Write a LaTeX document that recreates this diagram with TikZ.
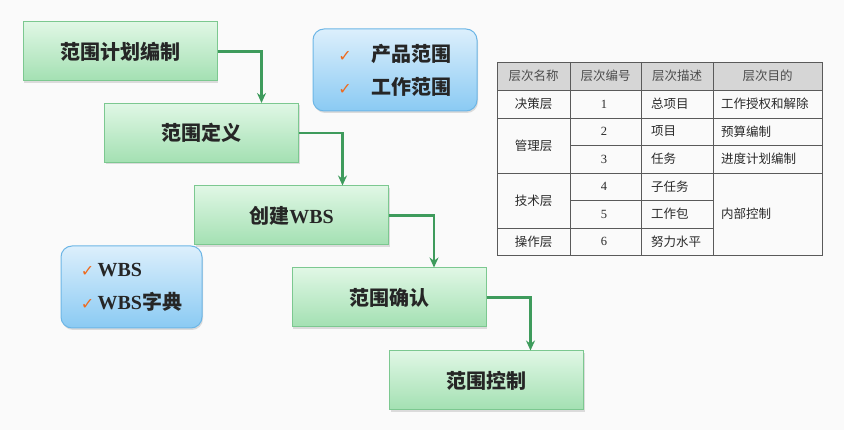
\documentclass[tikz,border=0pt]{standalone}
\usepackage{fontspec}
\setmainfont{Liberation Serif}
\newfontfamily\cjk{Noto Sans CJK SC}
\newfontfamily\symfont{DejaVu Sans}
\usetikzlibrary{arrows.meta, shadows}

\definecolor{pagebg}{HTML}{FAFAFA}
\definecolor{stagetop}{HTML}{E0F7E5}
\definecolor{stagebot}{HTML}{A3E0B2}
\definecolor{stageline}{HTML}{7CC890}
\definecolor{flowgreen}{HTML}{3E9B5C}
\definecolor{notetop}{HTML}{DCEFFC}
\definecolor{notebot}{HTML}{8ACAF3}
\definecolor{noteline}{HTML}{6DB6E6}
\definecolor{tickorange}{HTML}{EE6A1E}
\definecolor{headgray}{HTML}{D6D6D6}
\definecolor{gridline}{HTML}{5A5A5A}
\definecolor{celltext}{HTML}{2A2A2A}

\newcommand\zh[1]{{\cjk #1}}
\newcommand\tick{{\symfont\color{tickorange}\fontsize{16}{16}\selectfont ✓}}

\begin{document}
\begin{tikzpicture}[
  x=1pt, y=-1pt,
  >={Stealth[length=10pt,width=9pt]},
  stage/.style={
    rectangle, draw=stageline, line width=1pt,
    top color=stagetop, bottom color=stagebot,
    minimum width=194pt, minimum height=59pt,
    font=\fontsize{20}{24}\selectfont\bfseries, text=black!85,
    drop shadow={opacity=0.25, shadow xshift=1pt, shadow yshift=-2pt}
  },
  result/.style={
    rectangle, rounded corners=11pt, draw=noteline, line width=1pt,
    top color=notetop, bottom color=notebot,
    align=left, inner sep=0pt,
    font=\fontsize{20}{33}\selectfont\bfseries, text=black!85,
    drop shadow={opacity=0.25, shadow xshift=1pt, shadow yshift=-2pt}
  },
  flow/.style={->, draw=flowgreen, line width=2.6pt},
  cell/.style={font=\fontsize{12.5}{14}\selectfont, text=celltext, inner sep=0pt},
]

  \fill[pagebg] (0,0) rectangle (844,430);

  % -------------------------------------------------------
  %  Process steps
  % -------------------------------------------------------
  \node[stage] (b1) at (120.0,  51.5) {\zh{范围计划编制}};
  \node[stage] (b2) at (201.5, 133.0) {\zh{范围定义}};
  \node[stage] (b3) at (291.5, 215.5) {\zh{创建}WBS};
  \node[stage] (b4) at (389.0, 297.5) {\zh{范围确认}};
  \node[stage] (b5) at (486.5, 380.5) {\zh{范围控制}};

  % -------------------------------------------------------
  %  Outputs (blue notes)
  % -------------------------------------------------------
  \node[result, minimum width=164pt, minimum height=82pt] (p1) at (395, 70)
    {\tick\quad\zh{产品范围}\\\tick\quad\zh{工作范围}};
  \node[result, minimum width=141pt, minimum height=82pt] (p2) at (131.5, 287)
    {\tick\,WBS\\\tick\,WBS\zh{字典}};

  % -------------------------------------------------------
  %  Flow between steps
  % -------------------------------------------------------
  \draw[flow] (b1.east) -| ([xshift=60pt]b2.north);
  \draw[flow] (b2.east) -| ([xshift=51pt]b3.north);
  \draw[flow] (b3.east) -| ([xshift=45pt]b4.north);
  \draw[flow] (b4.east) -| ([xshift=44pt]b5.north);

  % -------------------------------------------------------
  %  Level table
  % -------------------------------------------------------
  \fill[headgray] (497,62) rectangle (822,90);
  \draw[gridline, line width=0.8pt] (497,62) rectangle (822,255);
  \foreach \x in {570, 641, 713}
    \draw[gridline, line width=0.8pt] (\x,62) -- (\x,255);
  \foreach \y in {90, 118, 173}
    \draw[gridline, line width=0.8pt] (497,\y) -- (822,\y);
  \draw[gridline, line width=0.8pt] (570,145) -- (822,145);
  \draw[gridline, line width=0.8pt] (570,200) -- (713,200);
  \draw[gridline, line width=0.8pt] (497,228) -- (713,228);

  \node[cell, text=black!70] (h1) at (533.5, 76) {\zh{层次名称}};
  \node[cell, text=black!70] (h2) at (605.5, 76) {\zh{层次编号}};
  \node[cell, text=black!70] (h3) at (677.0, 76) {\zh{层次描述}};
  \node[cell, text=black!70] (h4) at (767.5, 76) {\zh{层次目的}};

  \node[cell] (l1) at (533.5, 104.0) {\zh{决策层}};
  \node[cell] (l2) at (533.5, 145.5) {\zh{管理层}};
  \node[cell] (l3) at (533.5, 200.5) {\zh{技术层}};
  \node[cell] (l4) at (533.5, 241.5) {\zh{操作层}};

  \foreach \n/\y in {1/104, 2/131.5, 3/159, 4/186.5, 5/214, 6/241.5}
    \node[cell] (n\n) at (604, \y) {\n};

  \node[cell, anchor=west] (d1) at (651, 104.0) {\zh{总项目}};
  \node[cell, anchor=west] (d2) at (651, 131.5) {\zh{项目}};
  \node[cell, anchor=west] (d3) at (651, 159.0) {\zh{任务}};
  \node[cell, anchor=west] (d4) at (651, 186.5) {\zh{子任务}};
  \node[cell, anchor=west] (d5) at (651, 214.0) {\zh{工作包}};
  \node[cell, anchor=west] (d6) at (651, 241.5) {\zh{努力水平}};

  \node[cell, anchor=west] (g1) at (721, 104.0) {\zh{工作授权和解除}};
  \node[cell, anchor=west] (g2) at (721, 131.5) {\zh{预算编制}};
  \node[cell, anchor=west] (g3) at (721, 159.0) {\zh{进度计划编制}};
  \node[cell, anchor=west] (g4) at (721, 214.0) {\zh{内部控制}};

\end{tikzpicture}
\end{document}
